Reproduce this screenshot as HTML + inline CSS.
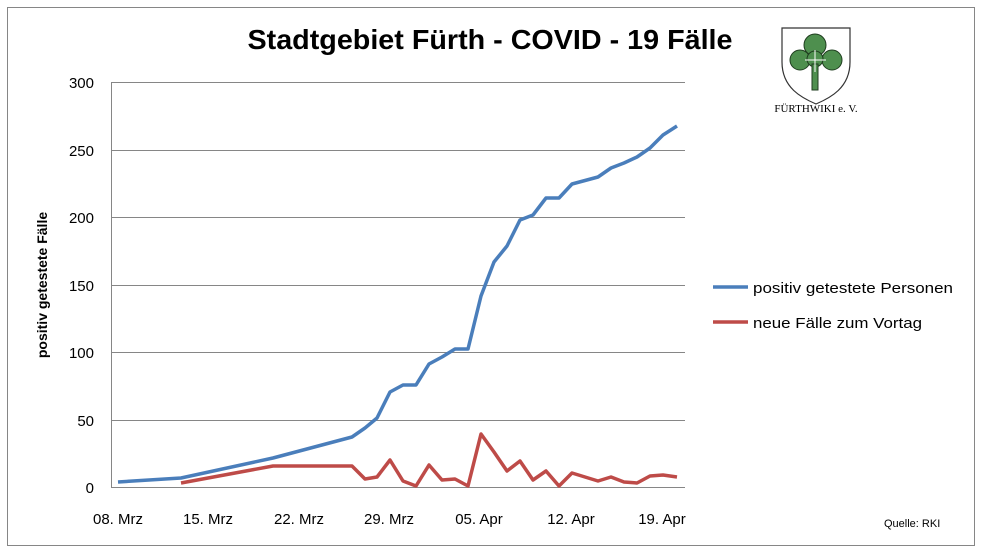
<!DOCTYPE html>
<html><head><meta charset="utf-8"><style>
body{margin:0;background:#fff;}
svg{display:block;font-family:"Liberation Sans",sans-serif;}
</style></head><body>
<svg width="982" height="554" viewBox="0 0 982 554">
<rect x="0" y="0" width="982" height="554" fill="#fff"/>
<rect x="7.5" y="7.5" width="967" height="538" fill="#fff" stroke="#868686"/>
<text x="490" y="49" text-anchor="middle" font-size="28" font-weight="bold" fill="#000" textLength="485" lengthAdjust="spacingAndGlyphs">Stadtgebiet Fürth - COVID - 19 Fälle</text>
<g stroke="#868686" stroke-width="1">
<line x1="111" y1="82.5" x2="685" y2="82.5"/>
<line x1="111" y1="150.5" x2="685" y2="150.5"/>
<line x1="111" y1="217.5" x2="685" y2="217.5"/>
<line x1="111" y1="285.5" x2="685" y2="285.5"/>
<line x1="111" y1="352.5" x2="685" y2="352.5"/>
<line x1="111" y1="420.5" x2="685" y2="420.5"/>
<line x1="111" y1="487.5" x2="685" y2="487.5"/>
<line x1="111.5" y1="82" x2="111.5" y2="487"/>
</g>
<g font-size="15" fill="#000" text-anchor="end">
<text x="94" y="88">300</text><text x="94" y="156">250</text><text x="94" y="223">200</text>
<text x="94" y="291">150</text><text x="94" y="358">100</text><text x="94" y="426">50</text><text x="94" y="493">0</text>
</g>
<g font-size="15" fill="#000" text-anchor="middle">
<text x="118" y="524">08. Mrz</text><text x="208" y="524">15. Mrz</text><text x="299" y="524">22. Mrz</text>
<text x="389" y="524">29. Mrz</text><text x="479" y="524">05. Apr</text><text x="571" y="524">12. Apr</text><text x="662" y="524">19. Apr</text>
</g>
<text transform="translate(47,285) rotate(-90)" text-anchor="middle" font-size="14" font-weight="bold" fill="#000">positiv getestete Fälle</text>
<polyline fill="none" stroke="#4a7ebb" stroke-width="3.5" stroke-linejoin="round" points="118,482 181,478 273,458 352,437 365,428 377,418 390,392 403,385 416,385 429,364 442,357 455,349 468,349 481,296 494,262 507,246 520,220 533,215 546,198 559,198 572,184 598,177 611,168 624,163 637,157 650,148 663,135 677,126"/>
<polyline fill="none" stroke="#be4b48" stroke-width="3.5" stroke-linejoin="round" points="181,483 273,466 352,466 365,479 377,477 390,460 403,481 416,486 429,465 442,480 455,479 468,486 481,434 494,452 507,471 520,461 533,480 546,471 559,486 572,473 585,477 598,481 611,477 624,482 637,483 650,476 663,475 677,477"/>
<line x1="713" y1="287" x2="748" y2="287" stroke="#4a7ebb" stroke-width="3.5"/>
<text x="753" y="293" font-size="15" fill="#000" textLength="200" lengthAdjust="spacingAndGlyphs">positiv getestete  Personen</text>
<line x1="713" y1="322" x2="748" y2="322" stroke="#be4b48" stroke-width="3.5"/>
<text x="753" y="328" font-size="15" fill="#000" textLength="169" lengthAdjust="spacingAndGlyphs">neue Fälle zum Vortag</text>
<text x="884" y="527" font-size="11" fill="#000">Quelle: RKI</text>
<path d="M782,28 H850 V62 C850,88 830,98 816,104 C802,98 782,88 782,62 Z" fill="#fff" stroke="#333" stroke-width="1.2"/>
<g fill="#4e8f4e" stroke="#1f3d1f" stroke-width="1">
<circle cx="815" cy="45" r="11"/>
<circle cx="800" cy="60" r="10"/>
<circle cx="832" cy="60" r="10"/>
<circle cx="815" cy="59" r="8"/>
<path d="M812,64 L818,64 L818,90 L812,90 Z"/>
</g>
<path d="M815,50 V72 M805,60 H826" stroke="#fff" stroke-width="1"/>
<text x="816" y="112" text-anchor="middle" font-family="Liberation Serif,serif" font-size="11" fill="#000">FÜRTHWIKI e. V.</text>
</svg>
</body></html>
